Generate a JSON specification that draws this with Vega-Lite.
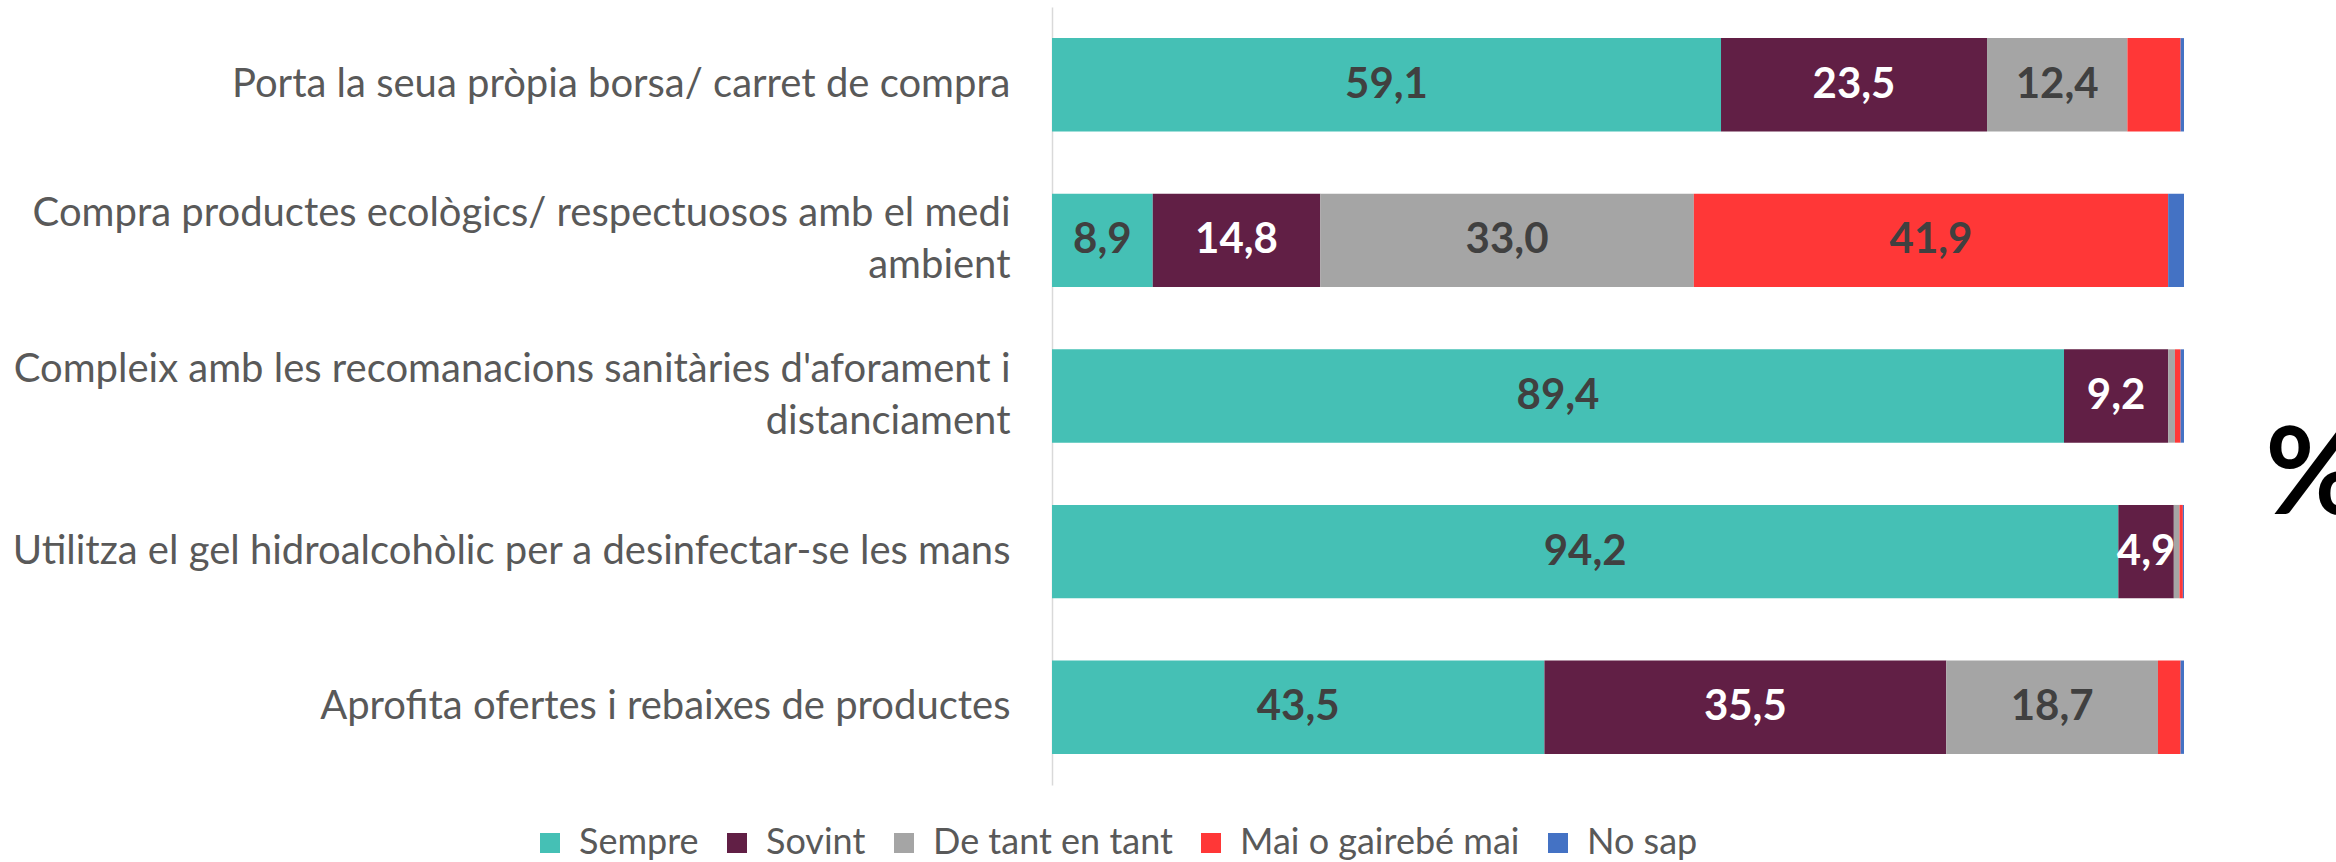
{
  "$schema": "https://vega.github.io/schema/vega-lite/v6.json",
  "width": 1132,
  "height": 778,
  "autosize": {"type": "none"},
  "padding": {"left": 1052, "top": 7, "right": 152, "bottom": 77},
  "background": "white",
  "title": {"text": "%", "orient": "right", "anchor": "middle", "angle": 0, "align": "left", "baseline": "middle", "fontSize": 120, "fontWeight": "bold", "color": "black", "font": "Lato", "offset": -17, "dy": 82},
  "data": {"values": [
    {"item": "Porta la seua pròpia borsa/ carret de compra", "resp": "Sempre", "ord": 1, "value": 59.1},
    {"item": "Porta la seua pròpia borsa/ carret de compra", "resp": "Sovint", "ord": 2, "value": 23.5},
    {"item": "Porta la seua pròpia borsa/ carret de compra", "resp": "De tant en tant", "ord": 3, "value": 12.4},
    {"item": "Porta la seua pròpia borsa/ carret de compra", "resp": "Mai o gairebé mai", "ord": 4, "value": 4.7},
    {"item": "Porta la seua pròpia borsa/ carret de compra", "resp": "No sap", "ord": 5, "value": 0.3},
    {"item": "Compra productes ecològics/ respectuosos amb el medi|ambient", "resp": "Sempre", "ord": 1, "value": 8.9},
    {"item": "Compra productes ecològics/ respectuosos amb el medi|ambient", "resp": "Sovint", "ord": 2, "value": 14.8},
    {"item": "Compra productes ecològics/ respectuosos amb el medi|ambient", "resp": "De tant en tant", "ord": 3, "value": 33.0},
    {"item": "Compra productes ecològics/ respectuosos amb el medi|ambient", "resp": "Mai o gairebé mai", "ord": 4, "value": 41.9},
    {"item": "Compra productes ecològics/ respectuosos amb el medi|ambient", "resp": "No sap", "ord": 5, "value": 1.4},
    {"item": "Compleix amb les recomanacions sanitàries d'aforament i|distanciament", "resp": "Sempre", "ord": 1, "value": 89.4},
    {"item": "Compleix amb les recomanacions sanitàries d'aforament i|distanciament", "resp": "Sovint", "ord": 2, "value": 9.2},
    {"item": "Compleix amb les recomanacions sanitàries d'aforament i|distanciament", "resp": "De tant en tant", "ord": 3, "value": 0.6},
    {"item": "Compleix amb les recomanacions sanitàries d'aforament i|distanciament", "resp": "Mai o gairebé mai", "ord": 4, "value": 0.5},
    {"item": "Compleix amb les recomanacions sanitàries d'aforament i|distanciament", "resp": "No sap", "ord": 5, "value": 0.3},
    {"item": "Utilitza el gel hidroalcohòlic per a desinfectar-se les mans", "resp": "Sempre", "ord": 1, "value": 94.2},
    {"item": "Utilitza el gel hidroalcohòlic per a desinfectar-se les mans", "resp": "Sovint", "ord": 2, "value": 4.9},
    {"item": "Utilitza el gel hidroalcohòlic per a desinfectar-se les mans", "resp": "De tant en tant", "ord": 3, "value": 0.5},
    {"item": "Utilitza el gel hidroalcohòlic per a desinfectar-se les mans", "resp": "Mai o gairebé mai", "ord": 4, "value": 0.3},
    {"item": "Utilitza el gel hidroalcohòlic per a desinfectar-se les mans", "resp": "No sap", "ord": 5, "value": 0.1},
    {"item": "Aprofita ofertes i rebaixes de productes", "resp": "Sempre", "ord": 1, "value": 43.5},
    {"item": "Aprofita ofertes i rebaixes de productes", "resp": "Sovint", "ord": 2, "value": 35.5},
    {"item": "Aprofita ofertes i rebaixes de productes", "resp": "De tant en tant", "ord": 3, "value": 18.7},
    {"item": "Aprofita ofertes i rebaixes de productes", "resp": "Mai o gairebé mai", "ord": 4, "value": 2.0},
    {"item": "Aprofita ofertes i rebaixes de productes", "resp": "No sap", "ord": 5, "value": 0.3}
  ]},
  "encoding": {
    "y": {
      "field": "item", "type": "nominal", "sort": null,
      "scale": {"paddingInner": 0.4, "paddingOuter": 0.2},
      "axis": {
        "title": null, "ticks": false, "domain": true, "domainColor": "#D9D9D9", "domainWidth": 1.5,
        "labelExpr": "split(datum.label, '|')",
        "labelFont": "Lato", "labelFontSize": 40, "labelColor": "#595959",
        "labelPadding": 42, "labelLimit": 1100, "labelLineHeight": 52, "labelAlign": "right", "labelBaseline": "middle",
        "labelOffset": {"condition": {"test": "indexof(datum.value, '|') >= 0", "value": -26}, "value": 0}
      }
    },
    "x": {
      "field": "value", "type": "quantitative", "stack": "zero",
      "scale": {"domain": [0, 100]}, "axis": null
    },
    "order": {"field": "ord", "type": "quantitative"}
  },
  "layer": [
    {
      "mark": {"type": "bar"},
      "encoding": {
        "color": {
          "field": "resp", "type": "nominal",
          "scale": {
            "domain": ["Sempre", "Sovint", "De tant en tant", "Mai o gairebé mai", "No sap"],
            "range": ["#45C0B5", "#611F45", "#A5A5A5", "#FF3737", "#4472C4"]
          },
          "legend": {
            "title": null, "orient": "none", "direction": "horizontal",
            "legendX": -520, "legendY": 818,
            "symbolType": "square", "symbolSize": 400, "symbolStrokeWidth": 0,
            "labelFont": "Lato", "labelFontSize": 36, "labelColor": "#595959",
            "labelOffset": 11, "columnPadding": 20, "labelLimit": 400
          }
        }
      }
    },
    {
      "transform": [{"filter": "datum.value >= 4.85"}],
      "mark": {"type": "text", "font": "Lato", "fontWeight": "bold", "fontSize": 42, "baseline": "middle", "align": "center"},
      "encoding": {
        "x": {"field": "value", "type": "quantitative", "stack": "zero", "bandPosition": 0.5},
        "text": {"field": "value", "type": "quantitative", "format": ".1f"},
        "color": {"condition": {"test": "datum.resp === 'Sovint'", "value": "white"}, "value": "#404040"}
      }
    }
  ],
  "config": {
    "view": {"stroke": null},
    "locale": {"number": {"decimal": ",", "thousands": ".", "grouping": [3], "currency": ["", " €"]}}
  }
}
